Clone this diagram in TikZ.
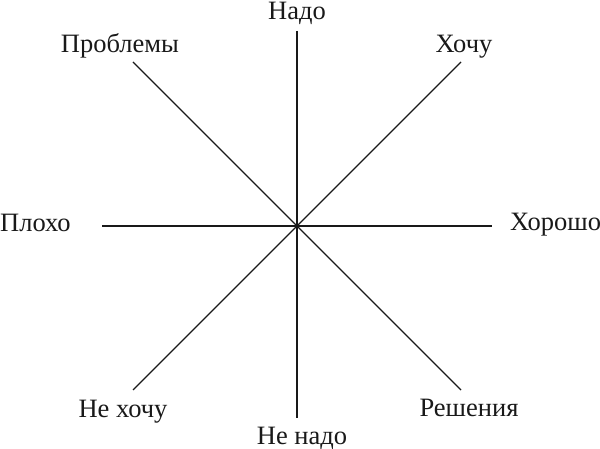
\documentclass[tikz,border=0pt]{standalone}
\usepackage{fontspec}
\setmainfont{Liberation Serif}
\begin{document}
\begin{tikzpicture}[x=1pt,y=-1pt,
  lbl/.style={inner sep=0pt,font=\fontsize{26.5}{30}\selectfont,text=black!90},
  ray/.style={line width=1.2pt,black!90}]
\useasboundingbox (0,0) rectangle (600,449);
\coordinate (c) at (297,226);
\coordinate (n) at (297,31);
\coordinate (s) at (297,418);
\coordinate (w) at (102,226);
\coordinate (e) at (492,226);
\coordinate (nw) at (133,62);
\coordinate (ne) at (461,62);
\coordinate (sw) at (133,390);
\coordinate (se) at (461,390);
\draw[ray] (n) -- (s);
\draw[ray] (w) -- (e);
\draw[ray] (nw) -- (se);
\draw[ray] (ne) -- (sw);
\node[lbl,anchor=base] (tn) at (297,20) {Надо};
\node[lbl,anchor=base] (tnw) at (120,53) {Проблемы};
\node[lbl,anchor=base] (tne) at (464,53) {Хочу};
\node[lbl,anchor=base west] (tw) at (0,232) {Плохо};
\node[lbl,anchor=base west] (te) at (510,231) {Хорошо};
\node[lbl,anchor=base] (tsw) at (123,417) {Не хочу};
\node[lbl,anchor=base] (tse) at (469,416) {Решения};
\node[lbl,anchor=base] (ts) at (302,444) {Не надо};
\end{tikzpicture}
\end{document}
